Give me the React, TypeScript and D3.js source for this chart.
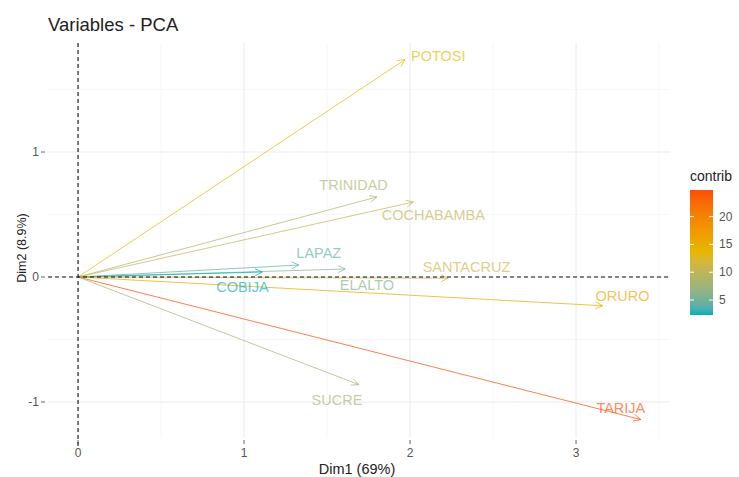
import React, { useRef, useEffect } from 'react';
import * as d3 from 'd3';

// variables (departamentos) and their coordinates on Dim1 / Dim2
const names = ['POTOSI', 'TRINIDAD', 'COCHABAMBA', 'LAPAZ', 'ELALTO', 'COBIJA', 'SANTACRUZ', 'ORURO', 'TARIJA', 'SUCRE'];
const dim1 = [1.97, 1.80, 2.02, 1.33, 1.61, 1.11, 2.23, 3.16, 3.39, 1.69];
const dim2 = [1.74, 0.64, 0.60, 0.096, 0.064, 0.04, -0.01, -0.23, -1.14, -0.86];
const contrib = [13.5, 8.5, 10, 4, 6, 2.3, 11, 16, 24.8, 8];
// where the repelled labels ended up (data units)
const labelX = [2.17, 1.66, 2.14, 1.45, 1.74, 0.99, 2.34, 3.28, 3.27, 1.56];
const labelY = [1.77, 0.74, 0.50, 0.19, -0.064, -0.08, 0.08, -0.15, -1.05, -0.98];

const xTicks = [0, 1, 2, 3];
const yTicks = [-1, 0, 1];
const legendTicks = [5, 10, 15, 20];
const gradColors = ['#00AFBB', '#E7B800', '#FC4E07'];

const W = 739;
const H = 477;
const FONT = '"Liberation Sans", Arial, sans-serif';

const App = () => {
  const svgRef = useRef<SVGSVGElement>(null);

  useEffect(() => {
    const svg = d3.select(svgRef.current);
    svg.selectAll('*').remove();

    const panel = { left: 48, right: 670, top: 43, bottom: 438 };
    const x = d3.scaleLinear().domain([-0.181, 3.566]).range([panel.left, panel.right]);
    const y = d3.scaleLinear().domain([-1.288, 1.872]).range([panel.bottom, panel.top]);

    const cMin = d3.min(contrib) as number;
    const cMax = d3.max(contrib) as number;
    // ggplot's gradient2 blends in Lab, which gives the greyish middle tones
    const color = d3.scaleLinear<string>()
      .domain([cMin, (cMin + cMax) / 2, cMax])
      .range(gradColors)
      .interpolate(d3.interpolateLab);

    svg.append('rect').attr('width', W).attr('height', H).attr('fill', '#fff');

    // grid (minor, then major)
    const g = svg.append('g');
    const minorX = d3.range(-0.5, 3.6, 1).filter(v => x(v) >= panel.left);
    const minorY = d3.range(-1.5, 1.9, 1).filter(v => y(v) <= panel.bottom && y(v) >= panel.top);
    g.selectAll('.mx').data(minorX).enter().append('line')
      .attr('x1', d => x(d)).attr('x2', d => x(d)).attr('y1', panel.top).attr('y2', panel.bottom)
      .attr('stroke', '#f2f2f2').attr('stroke-width', 0.6);
    g.selectAll('.my').data(minorY).enter().append('line')
      .attr('y1', d => y(d)).attr('y2', d => y(d)).attr('x1', panel.left).attr('x2', panel.right)
      .attr('stroke', '#f2f2f2').attr('stroke-width', 0.6);
    g.selectAll('.gx').data(xTicks).enter().append('line')
      .attr('x1', d => x(d)).attr('x2', d => x(d)).attr('y1', panel.top).attr('y2', panel.bottom)
      .attr('stroke', '#ebebeb').attr('stroke-width', 1);
    g.selectAll('.gy').data(yTicks).enter().append('line')
      .attr('y1', d => y(d)).attr('y2', d => y(d)).attr('x1', panel.left).attr('x2', panel.right)
      .attr('stroke', '#ebebeb').attr('stroke-width', 1);

    // axis ticks + labels
    const ax = svg.append('g').attr('font-family', FONT).attr('fill', '#555');
    ax.selectAll('.tx').data(xTicks).enter().append('line')
      .attr('x1', d => x(d)).attr('x2', d => x(d)).attr('y1', panel.bottom + 2).attr('y2', panel.bottom + 6)
      .attr('stroke', '#666').attr('stroke-width', 1);
    ax.selectAll('.lx').data(xTicks).enter().append('text')
      .attr('x', d => x(d)).attr('y', panel.bottom + 19).attr('text-anchor', 'middle')
      .attr('font-size', 12).text(d => d);
    ax.selectAll('.ty').data(yTicks).enter().append('line')
      .attr('y1', d => y(d)).attr('y2', d => y(d)).attr('x1', panel.left - 7).attr('x2', panel.left - 3)
      .attr('stroke', '#666').attr('stroke-width', 1);
    ax.selectAll('.ly').data(yTicks).enter().append('text')
      .attr('x', panel.left - 9).attr('y', d => y(d) + 4).attr('text-anchor', 'end')
      .attr('font-size', 12).text(d => d);

    // axis titles
    svg.append('text').attr('x', (panel.left + panel.right) / 2 - 2).attr('y', 474)
      .attr('text-anchor', 'middle').attr('font-family', FONT).attr('font-size', 14.5)
      .attr('fill', '#222').text('Dim1 (69%)');
    svg.append('text').attr('transform', `translate(26,248) rotate(-90)`)
      .attr('text-anchor', 'middle').attr('font-family', FONT).attr('font-size', 12.5)
      .attr('fill', '#222').text('Dim2 (8.9%)');
    svg.append('text').attr('x', panel.left).attr('y', 31)
      .attr('font-family', FONT).attr('font-size', 18.5).attr('fill', '#222').text('Variables - PCA');

    // arrows
    const data = names.map((n, i) => ({ n, x: dim1[i], y: dim2[i], c: contrib[i], lx: labelX[i], ly: labelY[i] }));
    const arr = svg.append('g');
    data.forEach(d => {
      const col = color(d.c);
      const x0 = x(0), y0 = y(0), x1 = x(d.x), y1 = y(d.y);
      const ang = Math.atan2(y1 - y0, x1 - x0);
      const len = 8, spread = Math.PI / 7;
      arr.append('line').attr('x1', x0).attr('y1', y0).attr('x2', x1).attr('y2', y1)
        .attr('stroke', col).attr('stroke-width', 1).attr('opacity', 0.7);
      arr.append('path')
        .attr('d', `M${x1 - len * Math.cos(ang - spread)},${y1 - len * Math.sin(ang - spread)}L${x1},${y1}L${x1 - len * Math.cos(ang + spread)},${y1 - len * Math.sin(ang + spread)}`)
        .attr('fill', 'none').attr('stroke', col).attr('stroke-width', 1).attr('opacity', 0.7);
    });

    // origin dashed lines
    svg.append('line').attr('x1', panel.left).attr('x2', panel.right).attr('y1', y(0)).attr('y2', y(0))
      .attr('stroke', '#111').attr('stroke-width', 1.1).attr('stroke-dasharray', '4,3');
    svg.append('line').attr('x1', x(0)).attr('x2', x(0)).attr('y1', panel.top).attr('y2', panel.bottom + 8)
      .attr('stroke', '#111').attr('stroke-width', 1.1).attr('stroke-dasharray', '4,3');

    // labels
    svg.append('g').selectAll('text').data(data).enter().append('text')
      .attr('x', d => x(d.lx)).attr('y', d => y(d.ly) + 5).attr('text-anchor', 'middle')
      .attr('font-family', FONT).attr('font-size', 14.5)
      .attr('fill', d => color(d.c)).attr('opacity', 0.65).text(d => d.n);

    // legend
    const lg = svg.append('g');
    const lTop = 190, lBot = 315, lx = 690, lw = 23;
    const ls = d3.scaleLinear().domain([cMin, cMax]).range([lBot, lTop]);
    const defs = svg.append('defs');
    const grad = defs.append('linearGradient').attr('id', 'cgrad').attr('x1', 0).attr('x2', 0).attr('y1', 1).attr('y2', 0);
    d3.range(0, 1.001, 0.05).forEach(t => {
      grad.append('stop').attr('offset', t).attr('stop-color', color(cMin + t * (cMax - cMin)));
    });
    lg.append('rect').attr('x', lx).attr('y', lTop).attr('width', lw).attr('height', lBot - lTop).attr('fill', 'url(#cgrad)');
    legendTicks.forEach(t => {
      lg.append('line').attr('x1', lx).attr('x2', lx + 4).attr('y1', ls(t)).attr('y2', ls(t)).attr('stroke', '#fff').attr('stroke-width', 1);
      lg.append('line').attr('x1', lx + lw - 4).attr('x2', lx + lw).attr('y1', ls(t)).attr('y2', ls(t)).attr('stroke', '#fff').attr('stroke-width', 1);
      lg.append('text').attr('x', lx + lw + 6).attr('y', ls(t) + 4).attr('font-family', FONT)
        .attr('font-size', 12).attr('fill', '#555').text(t);
    });
    lg.append('text').attr('x', lx).attr('y', 181).attr('font-family', FONT).attr('font-size', 14)
      .attr('fill', '#222').text('contrib');
  }, []);

  return (
    <svg ref={svgRef} width={W} height={H} style={{ position: 'absolute', left: 0, top: 0, display: 'block' }} />
  );
};

export default App;
